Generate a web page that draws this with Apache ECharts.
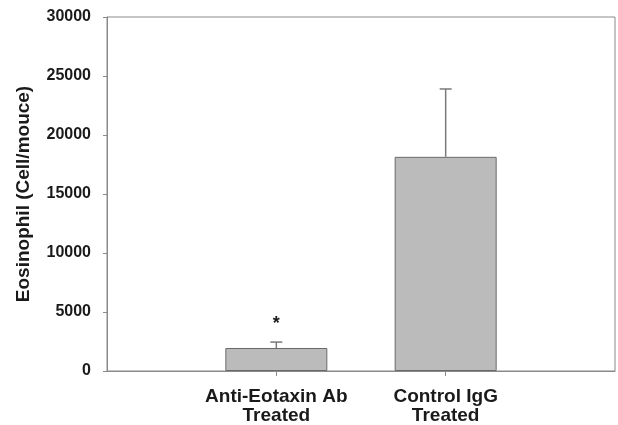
<!DOCTYPE html>
<html>
<head>
<meta charset="utf-8">
<script src="https://cdn.jsdelivr.net/npm/echarts@6/dist/echarts.min.js"></script>
<style>
  html, body { margin: 0; padding: 0; background: #fff; }
  #chart { width: 618px; height: 425px; }
</style>
</head>
<body>
<div id="chart"></div>
<script>
// groups shown on the x axis
const categories = ["Anti-Eotaxin Ab\nTreated", "Control IgG\nTreated"];
// mean eosinophil count per mouse
const means = [1950, 18150];
// upper end of the error bar
const errorTops = [2450, 23900];
// significance marks above the error bars
const marks = ["*", ""];
const yTicks = [0, 5000, 10000, 15000, 20000, 25000, 30000];

// pad with an empty slot on each side so the bars sit at 1/3 and 2/3
const xData = [""].concat(categories, [""]);
const barData = ["-"].concat(means, ["-"]);
const errData = categories.map((c, i) => [i + 1, means[i], errorTops[i], marks[i]]);

const chart = echarts.init(document.getElementById("chart"));
chart.setOption({
  animation: false,
  grid: {
    left: 107,
    right: 2,
    top: 17,
    bottom: 54,
    show: true,
    borderColor: "#8a8a8a",
    borderWidth: 1
  },
  xAxis: {
    type: "category",
    data: xData,
    boundaryGap: false,
    axisLine: { lineStyle: { color: "#8a8a8a", width: 1 } },
    axisTick: {
      length: 5,
      interval: (i) => i === 1 || i === 2,
      lineStyle: { color: "#8a8a8a" }
    },
    axisLabel: {
      interval: 0,
      margin: 16,
      color: "#1a1a1a",
      fontFamily: "Liberation Sans, Arial",
      fontWeight: "bold",
      fontSize: 19,
      lineHeight: 19
    }
  },
  yAxis: {
    type: "value",
    min: yTicks[0],
    max: yTicks[yTicks.length - 1],
    interval: 5000,
    name: "Eosinophil (Cell/mouce)",
    nameLocation: "middle",
    nameGap: 74,
    nameTextStyle: {
      color: "#1a1a1a",
      fontFamily: "Liberation Sans, Arial",
      fontWeight: "bold",
      fontSize: 19
    },
    axisLine: { show: true, lineStyle: { color: "#8a8a8a", width: 1 } },
    axisTick: { show: true, length: 4, lineStyle: { color: "#8a8a8a" } },
    splitLine: { show: false },
    axisLabel: {
      margin: 16,
      color: "#1a1a1a",
      fontFamily: "Liberation Sans, Arial",
      fontWeight: "bold",
      fontSize: 16,
      formatter: (v) => String(v)
    }
  },
  series: [
    {
      type: "bar",
      data: barData,
      barWidth: 102,
      itemStyle: {
        color: "#bbbbbb",
        borderColor: "#6a6a6a",
        borderWidth: 1
      }
    },
    {
      type: "custom",
      data: errData,
      z: 3,
      renderItem: function (params, api) {
        const base = api.coord([api.value(0), api.value(1)]);
        const top = api.coord([api.value(0), api.value(2)]);
        const children = [
          {
            type: "line",
            shape: { x1: base[0], y1: base[1], x2: top[0], y2: top[1] },
            style: { stroke: "#7a7a7a", lineWidth: 1.5 }
          },
          {
            type: "line",
            shape: { x1: top[0] - 6, y1: top[1], x2: top[0] + 6, y2: top[1] },
            style: { stroke: "#7a7a7a", lineWidth: 1.5 }
          }
        ];
        const mark = marks[params.dataIndex];
        if (mark) {
          children.push({
            type: "text",
            style: {
              text: mark,
              x: top[0],
              y: top[1] - 18,
              align: "center",
              verticalAlign: "middle",
              fill: "#1a1a1a",
              font: "bold 18px Liberation Sans, Arial"
            }
          });
        }
        return { type: "group", children: children };
      }
    }
  ]
});
</script>
</body>
</html>
